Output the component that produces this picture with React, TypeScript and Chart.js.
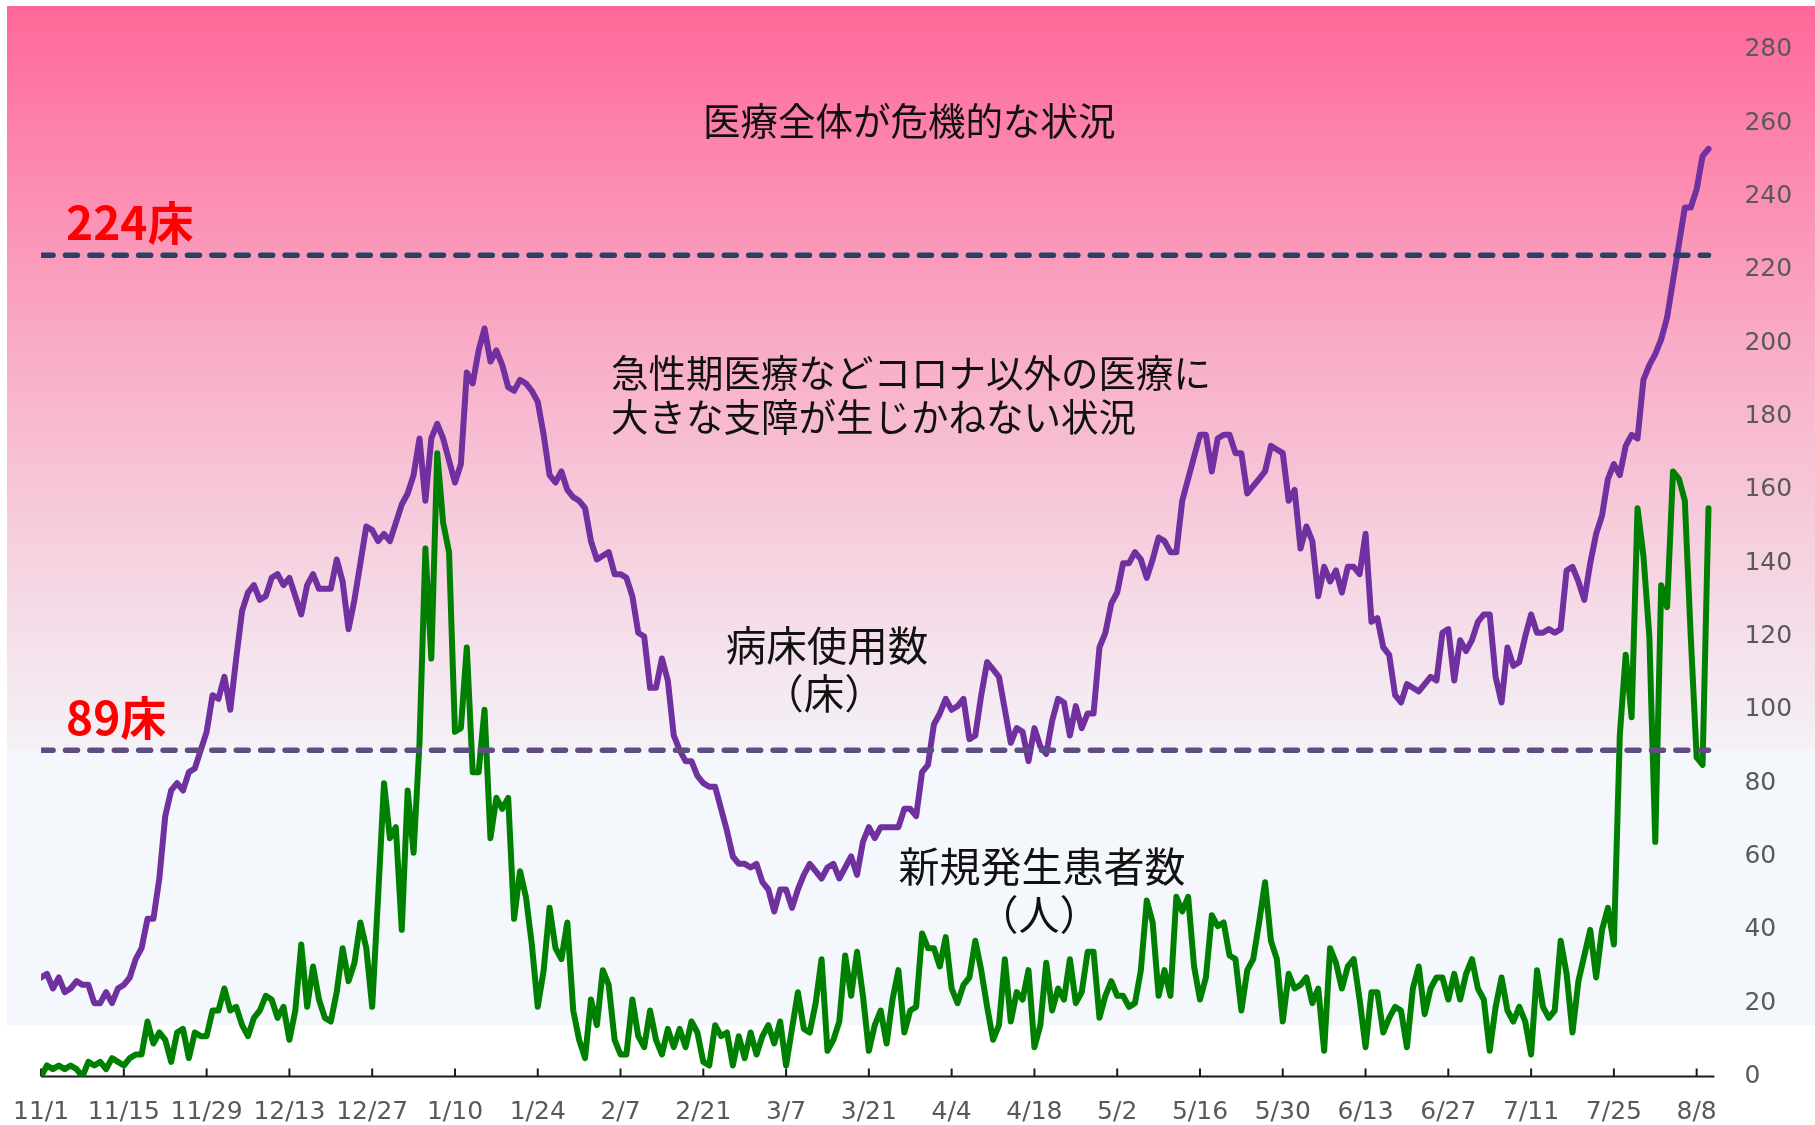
import { useEffect, useRef } from 'react';
import { Chart, registerables } from 'chart.js';

Chart.register(...registerables);

// Day index 0 = 11/1; one tick every 14 days
const tickDays = [0, 14, 28, 42, 56, 70, 84, 98, 112, 126, 140, 154, 168, 182, 196, 210, 224, 238, 252, 266, 280];
const tickLabels = ['11/1', '11/15', '11/29', '12/13', '12/27', '1/10', '1/24', '2/7', '2/21', '3/7', '3/21', '4/4', '4/18', '5/2', '5/16', '5/30', '6/13', '6/27', '7/11', '7/25', '8/8'];

// 病床使用数（床）
const bedsInUse = [
  27, 28, 24, 27, 23, 24, 26, 25, 25, 20,
  20, 23, 20, 24, 25, 27, 32, 35, 43, 43,
  54, 71, 78, 80, 78, 83, 84, 89, 94, 104,
  103, 109, 100, 114, 127, 132, 134, 130, 131, 136,
  137, 134, 136, 131, 126, 134, 137, 133, 133, 133,
  141, 135, 122, 130, 140, 150, 149, 146, 148, 146,
  151, 156, 159, 164, 174, 157, 174, 178, 174, 168,
  162, 167, 192, 189, 198, 204, 195, 198, 194, 188,
  187, 190, 189, 187, 184, 175, 164, 162, 165, 160,
  158, 157, 155, 146, 141, 142, 143, 137, 137, 136,
  131, 121, 120, 106, 106, 114, 108, 93, 89, 86,
  86, 82, 80, 79, 79, 73, 67, 60, 58, 58,
  57, 58, 53, 51, 45, 51, 51, 46, 51, 55,
  58, 56, 54, 57, 58, 54, 57, 60, 55, 64,
  68, 65, 68, 68, 68, 68, 73, 73, 71, 83,
  85, 96, 99, 103, 100, 101, 103, 92, 93, 104,
  113, 111, 109, 100, 91, 95, 94, 86, 95, 90,
  88, 97, 103, 102, 93, 101, 95, 99, 99, 117,
  121, 129, 132, 140, 140, 143, 141, 136, 141, 147,
  146, 143, 143, 157, 163, 169, 175, 175, 165, 174,
  175, 175, 170, 170, 159, 161, 163, 165, 172, 171,
  170, 157, 160, 144, 150, 146, 131, 139, 135, 138,
  132, 139, 139, 137, 148, 124, 125, 117, 115, 104,
  102, 107, 106, 105, 107, 109, 108, 121, 122, 108,
  119, 116, 119, 124, 126, 126, 109, 102, 117, 112,
  113, 120, 126, 121, 121, 122, 121, 122, 138, 139,
  135, 130, 140, 148, 153, 163, 167, 164, 172, 175,
  174, 190, 194, 197, 201, 207, 217, 227, 237, 237,
  242, 251, 253,
];

// 新規発生患者数（人）
const newPatients = [
  0, 3, 2, 3, 2, 3, 2, 0, 4, 3,
  4, 2, 5, 4, 3, 5, 6, 6, 15, 9,
  12, 10, 4, 12, 13, 5, 12, 11, 11, 18,
  18, 24, 18, 19, 14, 11, 16, 18, 22, 21,
  16, 19, 10, 18, 36, 19, 30, 21, 16, 15,
  23, 35, 26, 31, 42, 35, 19, 49, 80, 65,
  68, 40, 78, 61, 91, 144, 114, 170, 151, 143,
  94, 95, 117, 83, 83, 100, 65, 76, 73, 76,
  43, 56, 49, 36, 19, 29, 46, 35, 32, 42,
  18, 10, 5, 21, 14, 29, 25, 10, 6, 6,
  21, 11, 8, 18, 10, 6, 13, 8, 13, 8,
  15, 12, 4, 3, 14, 11, 12, 3, 11, 5,
  12, 6, 11, 14, 9, 15, 3, 13, 23, 13,
  12, 20, 32, 7, 10, 15, 33, 22, 34, 22,
  7, 14, 18, 9, 21, 29, 12, 18, 19, 39,
  35, 35, 30, 38, 24, 20, 25, 27, 37, 29,
  19, 10, 14, 32, 15, 23, 21, 29, 8, 14,
  31, 18, 24, 21, 32, 20, 23, 34, 34, 16,
  22, 26, 22, 22, 19, 20, 29, 48, 42, 22,
  29, 22, 49, 45, 49, 30, 21, 27, 44, 41,
  42, 33, 32, 18, 29, 32, 42, 53, 37, 32,
  15, 28, 24, 25, 27, 20, 24, 7, 35, 31,
  24, 30, 32, 21, 8, 23, 23, 12, 16, 19,
  18, 8, 24, 30, 17, 24, 27, 27, 21, 28,
  21, 28, 32, 24, 21, 7, 19, 27, 18, 15,
  19, 15, 6, 29, 19, 16, 18, 37, 28, 12,
  26, 33, 40, 27, 40, 46, 36, 93, 115, 98,
  155, 142, 120, 64, 134, 128, 165, 163, 157, 120,
  87, 85, 155,
];

const criticalBeds = 224;
const warningBeds = 89;
const lowBandValue = 14;

const W = 1815;
const H = 1125;
const JP = '"Noto Sans CJK JP", "Noto Sans", sans-serif';
const TICK_FONT = '"DejaVu Sans", sans-serif';

const annotations = [
  { text: '医療全体が危機的な状況', x: 703, y: 121, size: 37.5, color: '#111', bold: false, align: 'left' },
  { text: '急性期医療などコロナ以外の医療に', x: 611, y: 373, size: 37.5, color: '#111', bold: false, align: 'left' },
  { text: '大きな支障が生じかねない状況', x: 611, y: 417, size: 37.5, color: '#111', bold: false, align: 'left' },
  { text: '病床使用数', x: 827, y: 646, size: 40.5, color: '#111', bold: false, align: 'center' },
  { text: '（床）', x: 824, y: 694, size: 40.5, color: '#111', bold: false, align: 'center' },
  { text: '新規発生患者数', x: 1042, y: 866, size: 41, color: '#111', bold: false, align: 'center' },
  { text: '（人）', x: 1039, y: 914, size: 41, color: '#111', bold: false, align: 'center' },
  { text: '224床', x: 66, y: 223, size: 46, color: '#ff0000', bold: true, align: 'left' },
  { text: '89床', x: 66, y: 718, size: 46, color: '#ff0000', bold: true, align: 'left' },
];

const backgroundPlugin = {
  id: 'bgBands',
  beforeDraw(chart: any) {
    const { ctx } = chart;
    const y = chart.scales.y;
    const yWarn = y.getPixelForValue(warningBeds);
    const yLow = y.getPixelForValue(lowBandValue);
    const top = 6;
    const left = 7;
    ctx.save();
    ctx.fillStyle = '#ffffff';
    ctx.fillRect(0, 0, W, H);
    const g = ctx.createLinearGradient(0, top, 0, yWarn);
    g.addColorStop(0, '#ff6898');
    g.addColorStop(0.45, '#f9abc6');
    g.addColorStop(0.7, '#f6cddd');
    g.addColorStop(0.9, '#f4e6ef');
    g.addColorStop(1, '#f4f1f7');
    ctx.fillStyle = g;
    ctx.fillRect(left, top, W - left, yWarn - top);
    ctx.fillStyle = '#f4f7fb';
    ctx.fillRect(left, yWarn, W - left, yLow - yWarn);
    ctx.restore();
  },
};

const axisPlugin = {
  id: 'axisLine',
  beforeDatasetsDraw(chart: any) {
    const { ctx, chartArea } = chart;
    const xs = chart.scales.x;
    const y0 = chart.scales.y.getPixelForValue(0);
    ctx.save();
    ctx.strokeStyle = '#1a1a1a';
    ctx.lineWidth = 2;
    ctx.beginPath();
    ctx.moveTo(chartArea.left, y0);
    ctx.lineTo(chartArea.right, y0);
    tickDays.forEach((d) => {
      const px = xs.getPixelForValue(d);
      ctx.moveTo(px, y0);
      ctx.lineTo(px, y0 - 8);
    });
    ctx.stroke();
    ctx.restore();
  },
};

const textPlugin = {
  id: 'annotText',
  afterDraw(chart: any) {
    const { ctx } = chart;
    ctx.save();
    ctx.textBaseline = 'middle';
    annotations.forEach((a) => {
      ctx.font = `${a.bold ? 'bold ' : ''}${a.size}px ${JP}`;
      ctx.fillStyle = a.color;
      ctx.textAlign = a.align as CanvasTextAlign;
      ctx.fillText(a.text, a.x, a.y);
    });
    ctx.restore();
  },
};

export default function App() {
  const ref = useRef<HTMLCanvasElement | null>(null);

  useEffect(() => {
    if (!ref.current) return;
    const lastDay = bedsInUse.length - 1;
    const bedPoints = bedsInUse.map((v, i) => ({ x: i, y: v }));
    const patientPoints = newPatients.map((v, i) => ({ x: i, y: v }));
    const refLine = (v: number) => [
      { x: 0, y: v },
      { x: lastDay, y: v },
    ];

    const chart = new Chart(ref.current, {
      type: 'line',
      data: {
        datasets: [
          {
            label: '224床',
            data: refLine(criticalBeds),
            borderColor: '#264264',
            borderWidth: 5.5,
            borderDash: [12, 12.4],
            borderCapStyle: 'round',
            pointRadius: 0,
          },
          {
            label: '89床',
            data: refLine(warningBeds),
            borderColor: '#604c82',
            borderWidth: 5.5,
            borderDash: [12, 12.4],
            borderCapStyle: 'round',
            pointRadius: 0,
          },
          {
            label: '新規発生患者数',
            data: patientPoints,
            borderColor: '#008000',
            borderWidth: 6,
            borderJoinStyle: 'round',
            borderCapStyle: 'round',
            pointRadius: 0,
          },
          {
            label: '病床使用数',
            data: bedPoints,
            borderColor: '#7030a0',
            borderWidth: 6,
            borderJoinStyle: 'round',
            borderCapStyle: 'round',
            pointRadius: 0,
          },
        ],
      } as any,
      options: {
        animation: false,
        responsive: false,
        maintainAspectRatio: false,
        layout: { padding: { left: 37.3, top: 49.8, right: 0, bottom: 0 } },
        plugins: { legend: { display: false }, tooltip: { enabled: false } },
        elements: { line: { tension: 0 }, point: { radius: 0 } },
        scales: {
          x: {
            type: 'linear',
            min: 0,
            max: 283,
            grid: { display: false },
            border: { display: false },
            afterBuildTicks: (s: any) => {
              s.ticks = tickDays.map((d) => ({ value: d }));
            },
            afterFit: (s: any) => {
              s.height = 48.5;
            },
            ticks: {
              autoSkip: false,
              maxRotation: 0,
              padding: 13,
              color: '#595959',
              font: { family: TICK_FONT, size: 25 },
              callback: (_v: any, i: number) => tickLabels[i],
            },
          },
          y: {
            type: 'linear',
            position: 'right',
            min: 0,
            max: 280,
            grid: { display: false },
            border: { display: false },
            afterFit: (s: any) => {
              s.width = 100.6;
            },
            ticks: {
              stepSize: 20,
              padding: 22,
              color: '#595959',
              font: { family: TICK_FONT, size: 25 },
            },
          },
        },
      } as any,
      plugins: [backgroundPlugin, axisPlugin, textPlugin],
    });
    return () => chart.destroy();
  }, []);

  return (
    <div style={{ position: 'absolute', left: 0, top: 0, width: W, height: H }}>
      <canvas ref={ref} width={W} height={H} style={{ display: 'block', width: W, height: H }} />
    </div>
  );
}
